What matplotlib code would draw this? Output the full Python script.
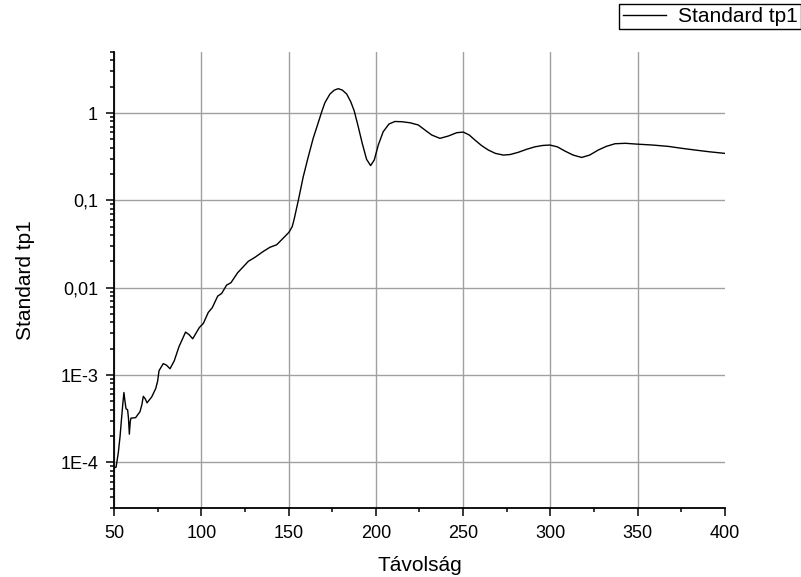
import numpy as np
import matplotlib
matplotlib.use("Agg")
import matplotlib.pyplot as plt
from matplotlib.ticker import LogLocator, MultipleLocator, NullFormatter

plt.rcParams["font.family"] = ["Liberation Sans", "DejaVu Sans"]

# Standard tp1 measured along the distance axis
distance = [
    50.0, 50.6, 51.2, 52.5, 53.5, 54.4, 55.2, 55.7, 56.3, 56.9, 57.8, 58.3,
    58.8, 59.3, 59.7, 62.4, 64.9, 66.0, 66.8, 68.0, 68.9, 71.6, 73.9, 75.0,
    75.8, 78.2, 80.0, 82.1, 84.5, 87.2, 91.0, 93.0, 95.1, 98.9, 101.2, 104.0,
    106.3, 109.4, 111.7, 114.5, 117.0, 120.8, 124.0, 126.9, 130.8, 135.5,
    139.3, 143.2, 147.0, 150.2, 152.1, 153.3, 155.6, 158.4, 161.3, 164.1,
    167.0, 169.0, 170.8, 173.7, 176.2, 178.5, 180.8, 183.3, 185.6, 187.6,
    189.9, 192.2, 194.7, 197.0, 199.1, 201.4, 204.2, 207.5, 210.9, 214.8,
    219.5, 224.3, 228.1, 232.0, 236.7, 241.5, 246.3, 250.1, 253.5, 256.8,
    260.5, 264.4, 268.5, 273.0, 277.0, 281.6, 286.5, 291.1, 295.5, 299.7,
    304.0, 308.3, 313.0, 317.9, 322.5, 327.4, 332.0, 337.0, 343.0, 349.9,
    358.5, 367.5, 375.0, 382.8, 391.0, 400.0,
]
tp1 = [
    9.0e-5, 8.7e-5, 8.8e-5, 1.3e-4, 2.0e-4, 3.3e-4, 5.0e-4, 6.3e-4, 5.0e-4,
    4.1e-4, 4.0e-4, 3.2e-4, 2.1e-4, 2.9e-4, 3.2e-4, 3.25e-4, 3.8e-4, 4.6e-4,
    5.7e-4, 5.3e-4, 4.8e-4, 5.6e-4, 7.0e-4, 8.5e-4, 1.12e-3, 1.35e-3,
    1.3e-3, 1.18e-3, 1.45e-3, 2.1e-3, 3.1e-3, 2.9e-3, 2.6e-3, 3.5e-3,
    3.9e-3, 5.2e-3, 5.9e-3, 8.0e-3, 8.6e-3, 1.07e-2, 1.14e-2, 1.48e-2,
    1.73e-2, 2.0e-2, 2.23e-2, 2.6e-2, 2.9e-2, 3.1e-2, 3.7e-2, 4.3e-2,
    5.0e-2, 6.2e-2, 0.10, 0.186, 0.316, 0.513, 0.774, 1.035, 1.31, 1.65,
    1.83, 1.90, 1.83, 1.65, 1.35, 1.06, 0.70, 0.45, 0.295, 0.25, 0.29, 0.43,
    0.61, 0.748, 0.80, 0.795, 0.774, 0.73, 0.64, 0.56, 0.513, 0.545, 0.595,
    0.605, 0.56, 0.49, 0.425, 0.377, 0.345, 0.33, 0.335, 0.355, 0.385, 0.41,
    0.425, 0.43, 0.41, 0.367, 0.33, 0.31, 0.33, 0.377, 0.415, 0.445, 0.45,
    0.44, 0.43, 0.415, 0.395, 0.377, 0.36, 0.345,
]

x_ticks = [50, 100, 150, 200, 250, 300, 350, 400]
y_ticks = [1e-4, 1e-3, 1e-2, 1e-1, 1]
y_tick_labels = ["1E-4", "1E-3", "0,01", "0,1", "1"]

fig = plt.figure(figsize=(8.01, 5.77), dpi=100)
ax = fig.add_axes([0.1423, 0.1196, 0.7628, 0.7903])

ax.plot(distance, tp1, color="black", linewidth=1.0, label="Standard tp1")

ax.set_yscale("log")
ax.set_xlim(50, 400)
ax.set_ylim(3e-5, 5)

ax.set_xticks(x_ticks)
ax.xaxis.set_minor_locator(MultipleLocator(25))
ax.set_yticks(y_ticks)
ax.set_yticklabels(y_tick_labels)
ax.yaxis.set_minor_locator(LogLocator(base=10, subs=np.arange(2, 10)))
ax.yaxis.set_minor_formatter(NullFormatter())

ax.tick_params(which="major", direction="out", length=5.5, width=1.1,
               labelsize=13)
ax.tick_params(axis="x", which="major", pad=7)
ax.tick_params(axis="y", which="major", pad=6)
ax.tick_params(which="minor", direction="out", length=3, width=1.1)

for side in ("top", "right"):
    ax.spines[side].set_visible(False)
for side in ("left", "bottom"):
    ax.spines[side].set_linewidth(1.3)

ax.grid(True, which="major", color="#a0a0a0", linewidth=1.0)
ax.set_axisbelow(True)
# no vertical grid line at the right end of the axis
ax.get_xgridlines()[-1].set_visible(False)

ax.set_xlabel("Távolság", fontsize=15, labelpad=10)
ax.set_ylabel("Standard tp1", fontsize=15, labelpad=18)

leg = fig.legend(loc="upper right", bbox_to_anchor=(0.9995, 0.993),
                 fontsize=15, handlelength=2.1, handletextpad=0.55,
                 borderpad=0.15, borderaxespad=0.0, fancybox=False,
                 framealpha=1.0, edgecolor="black")
leg.get_frame().set_linewidth(1.0)

fig.savefig("out.png", dpi=100)
